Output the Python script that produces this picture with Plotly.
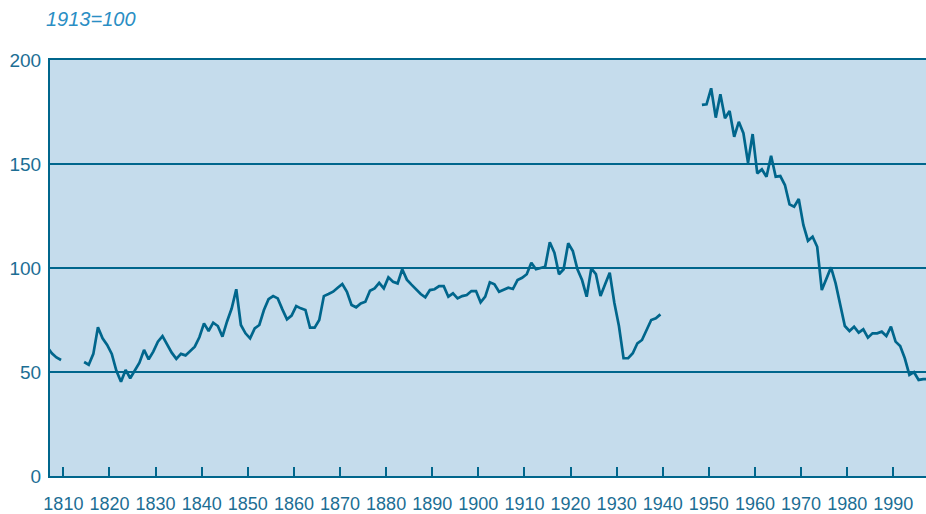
import plotly.graph_objects as go

years = list(range(1806, 1998))

seg1_years = [1806, 1807, 1808, 1809]
seg1_vals = [62, 59, 57, 55.8]

seg2_years = list(range(1814, 1940))
seg2_vals = [
    54.8, 53.5, 58.7, 71.5, 66.2, 63.0, 58.7, 50.6, 45.3, 51.0,   # 1814-1823
    47.0, 50.6, 54.5, 60.6, 56.1, 59.8, 64.6, 67.3, 63.5, 59.3,   # 1824-1833
    56.3, 58.7, 58.0, 60.3, 62.2, 66.7, 73.4, 69.7, 73.7, 72.1,   # 1834-1843
    67.0, 74.3, 80.5, 89.8, 72.6, 68.6, 66.2, 71.0, 72.6, 79.8,   # 1844-1853
    85.0, 86.5, 85.4, 80.1, 75.3, 77.1, 81.7, 80.6, 79.8, 71.3,   # 1854-1863
    71.3, 75.0, 86.5, 87.5, 88.6, 90.5, 92.3, 88.6, 82.2, 81.1,   # 1864-1873
    83.0, 83.8, 89.1, 90.2, 92.9, 90.2, 95.5, 93.4, 92.6, 99.4,   # 1874-1883
    94.4, 92.0, 89.6, 87.5, 85.9, 89.4, 89.8, 91.3, 91.3, 86.2,   # 1884-1893
    87.8, 85.4, 86.5, 87.0, 88.9, 88.9, 83.5, 86.2, 93.1, 92.2,   # 1894-1903
    88.6, 89.4, 90.5, 89.9, 94.2, 95.3, 97.0, 102.5, 99.4, 100.0, # 1904-1913
    100.6, 112.4, 107.4, 97.0, 99.4, 111.9, 108.2, 99.4, 94.2, 86.2,  # 1914-1923
    99.8, 97.1, 86.5, 92.2, 97.7, 83.3, 72.1, 56.6, 56.6, 59.0,   # 1924-1933
    63.8, 65.4, 69.9, 75.0, 75.8, 77.7,                           # 1934-1939
]

seg3_years = list(range(1948, 1998))
seg3_vals = [
    178.4, 178.7, 186.4, 172.3, 183.5, 172.0, 175.5, 163.1, 170.3, 164.8,  # 1948-1957
    150.6, 164.4, 145.5, 147.4, 143.9, 154.0, 143.9, 144.2, 139.9, 130.6,  # 1958-1967
    129.5, 133.2, 120.7, 113.1, 115.0, 110.2, 89.4, 94.8, 100.3, 92.6,     # 1968-1977
    83.0, 72.1, 69.7, 71.8, 68.9, 70.5, 66.5, 68.6, 68.6, 69.4,            # 1978-1987
    67.3, 71.8, 64.6, 62.5, 56.6, 48.6, 49.9, 46.2, 46.6, 46.6,            # 1988-1997
]

decade_labels = [str(d) for d in range(1810, 2000, 10)]
y_ticks = [0, 50, 100, 150, 200]

lookup = {}
for ys, vs in ((seg1_years, seg1_vals), (seg2_years, seg2_vals), (seg3_years, seg3_vals)):
    for y, v in zip(ys, vs):
        lookup[y] = v
values = [lookup.get(y) for y in years]

LINE = "#00668c"
TXT = "#1c6e94"
BG = "#c5dcec"

fig = go.Figure()
fig.add_trace(go.Scatter(
    x=years, y=values, mode="lines", connectgaps=False,
    line=dict(color=LINE, width=2.7), hoverinfo="skip", showlegend=False,
))

fig.update_layout(
    width=926, height=514,
    margin=dict(l=50, r=0, t=60, b=38),
    paper_bgcolor="white", plot_bgcolor=BG,
    font=dict(family="Liberation Sans, Arial, sans-serif", size=19, color=TXT),
    annotations=[dict(
        text="<i>1913=100</i>", xref="paper", yref="paper", x=-0.007, y=1.0,
        yshift=41, xanchor="left", yanchor="middle", showarrow=False,
        font=dict(size=20, color="#2a8ec4", family="Liberation Sans, Arial, sans-serif"),
    )],
)

fig.update_xaxes(
    range=[1806.6, 1996.6], automargin=False,
    tickvals=[int(t) - 0.5 for t in decade_labels], ticktext=decade_labels,
    ticks="inside", ticklen=9, tickwidth=1.5, tickcolor=LINE,
    tickfont=dict(size=18),
    showline=True, linecolor=LINE, linewidth=2, mirror=True,
    showgrid=False, zeroline=False, ticklabelstandoff=10,
)
fig.update_yaxes(
    range=[0, 200], tickvals=y_ticks, ticks="", ticklabelstandoff=3, automargin=False,
    showline=True, linecolor=LINE, linewidth=2,
    showgrid=True, gridcolor=LINE, gridwidth=1.5, zeroline=False,
)

fig.write_html(
    "out.html",
    config={"displayModeBar": False},
    post_script="document.body.style.margin='0';document.body.style.overflow='hidden';",
)
